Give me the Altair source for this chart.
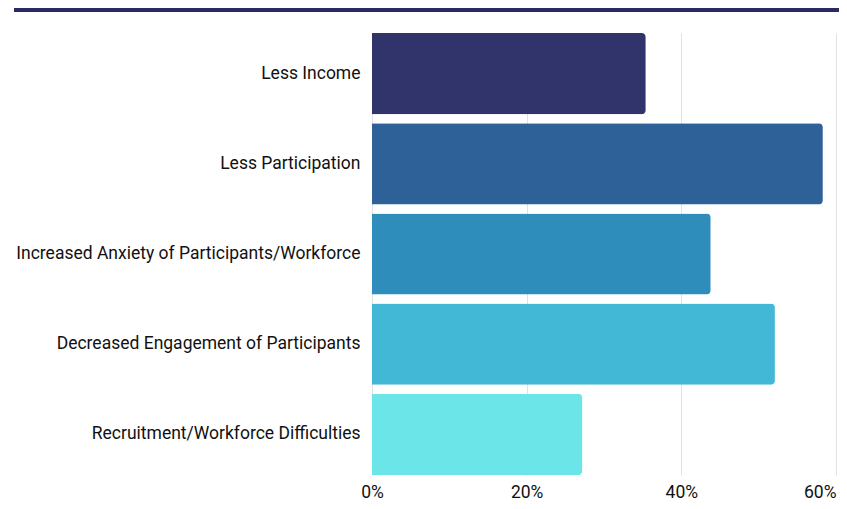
import altair as alt
import pandas as pd

categories = [
    "Less Income",
    "Less Participation",
    "Increased Anxiety of Participants/Workforce",
    "Decreased Engagement of Participants",
    "Recruitment/Workforce Difficulties",
]
values = [35.4, 58.3, 43.8, 52.1, 27.2]
colors = ["#31346B", "#2E6197", "#2E8DBB", "#42B8D6", "#6BE5E8"]
x_ticks = [0, 20, 40, 60]

df = pd.DataFrame({"category": categories, "value": values})

FONT = "Roboto"

bars = alt.Chart(df).mark_bar(cornerRadiusEnd=4).encode(
    y=alt.Y(
        "category:N",
        sort=categories,
        scale=alt.Scale(paddingInner=0.1, paddingOuter=0),
        axis=alt.Axis(
            title=None, ticks=False, domain=False, grid=False,
            labelFont=FONT, labelFontSize=17.5, labelFontWeight="normal",
            labelColor="#111111", labelPadding=12, labelLimit=400,
        ),
    ),
    x=alt.X(
        "value:Q",
        scale=alt.Scale(domain=[0, 60], nice=False),
        axis=alt.Axis(
            title=None, values=x_ticks, format=".0f", labelExpr="datum.label + '%'",
            ticks=False, domain=False, grid=True, gridColor="#e2e2e2",
            labelFont=FONT, labelFontSize=17.5, labelFontWeight="normal",
            labelColor="#111111", labelPadding=8, labelFlush=False,
            labelAlign={"expr": "datum.value == 60 ? 'right' : 'center'"},
        ),
    ),
    color=alt.Color("category:N", sort=categories,
                    scale=alt.Scale(domain=categories, range=colors), legend=None),
)

banner = alt.Chart(df).mark_rect(color="#2A2A62").encode(
    x=alt.value(-358), x2=alt.value(470), y=alt.value(-25), y2=alt.value(-21)
)

chart = alt.layer(banner, bars).properties(
    width=464, height=442,
    autosize=alt.AutoSizeParams(type="none"),
    padding={"left": 364, "top": 25, "right": 3, "bottom": 26},
).configure_view(stroke=None)

chart.save("out.html", embed_options={"renderer": "svg", "actions": False})
